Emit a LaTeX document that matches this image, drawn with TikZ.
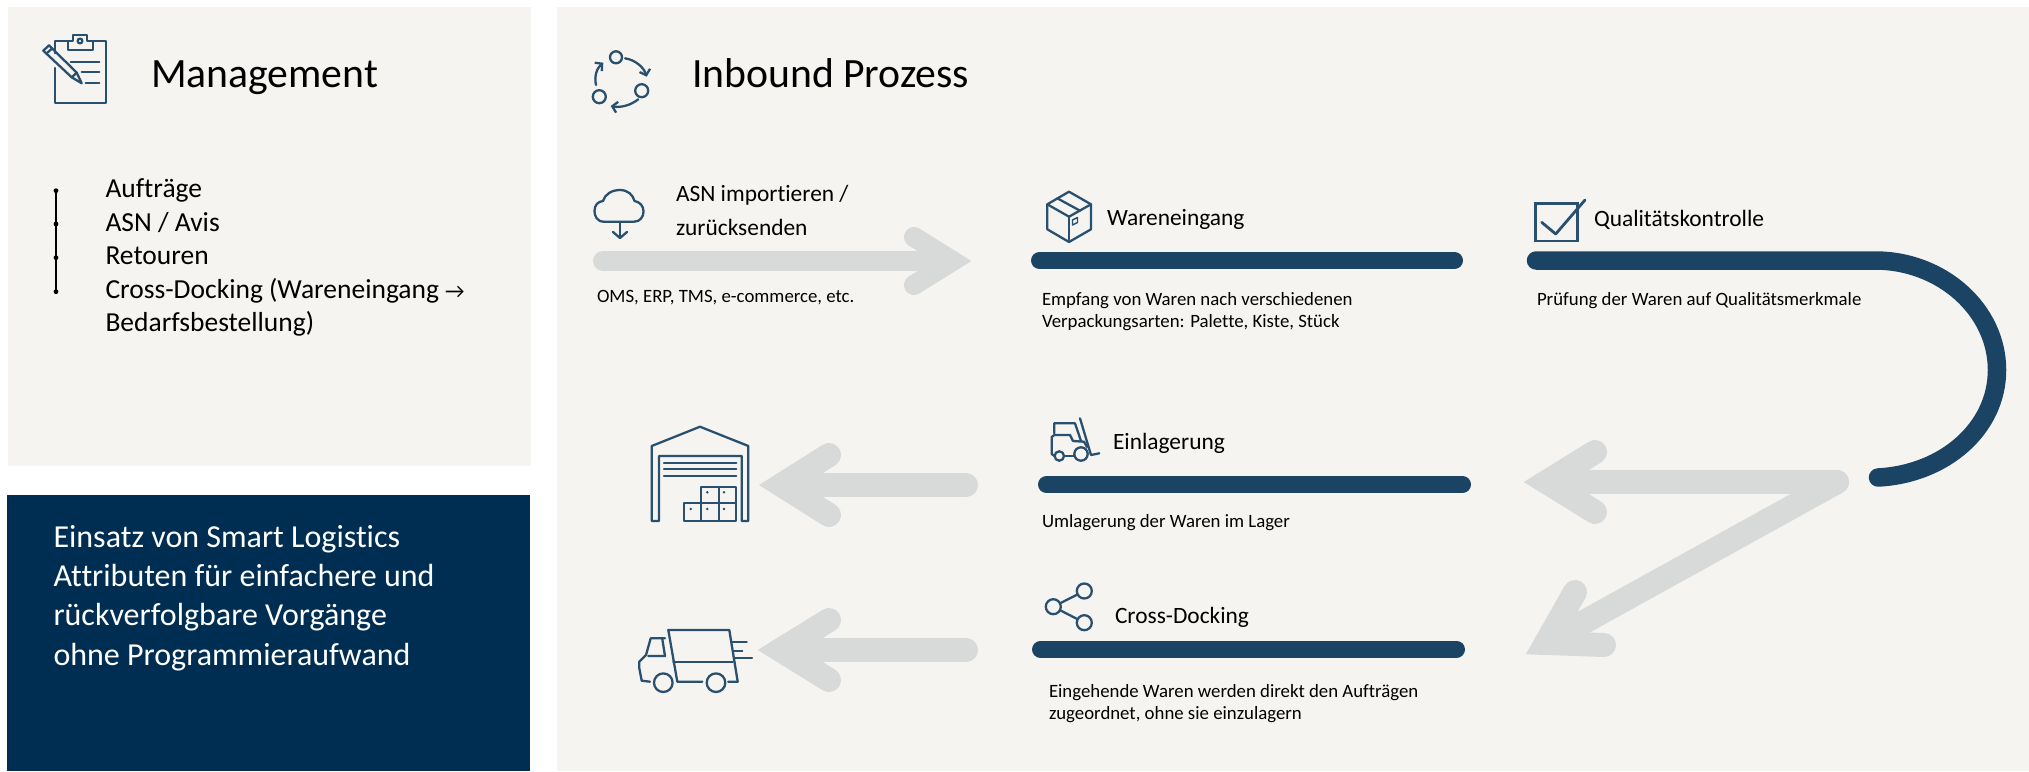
\documentclass[tikz,border=0pt]{standalone}
\usepackage{fontspec}
\setmainfont[Ligatures=NoCommon]{Carlito}
\usetikzlibrary{arrows.meta}
\definecolor{panelgray}{RGB}{246,244,241}
\definecolor{calloutblue}{RGB}{0,46,82}
\definecolor{barblue}{RGB}{27,67,99}
\definecolor{iconblue}{RGB}{42,80,112}
\definecolor{arrowgray}{RGB}{216,218,218}
\begin{document}
\begin{tikzpicture}[x=1pt, y=-1pt]
	\tikzstyle{every node} = [inner sep=0, outer sep=0, anchor=base west]
	\tikzstyle{titlenode} = [font=\fontsize{41.7}{49}\selectfont]
	\tikzstyle{headnode} = [font=\fontsize{23.4}{34}\selectfont, align=left]
	\tikzstyle{smallnode} = [font=\fontsize{18.8}{22}\selectfont, align=left]
	\tikzstyle{listnode} = [font=\fontsize{27.5}{33.5}\selectfont, align=left]
	\tikzstyle{calloutnode} = [font=\fontsize{32}{39.3}\selectfont, align=left, text=white]
	\tikzstyle{bar} = [draw=barblue, line width=17, line cap=round]
	\tikzstyle{grayshaft} = [draw=arrowgray, line width=24, line cap=round]
	\tikzstyle{grayhead} = [draw=arrowgray, line width=24, line cap=round, line join=miter]
	\tikzstyle{icon} = [draw=iconblue, line width=2.3, line join=round, line cap=round]
	\tikzstyle{ring} = [circle, draw=iconblue, line width=2.3, anchor=center]
	\useasboundingbox (0,0) rectangle (2029,771);

	\fill [panelgray] (8,6.5) rectangle (530.5,466);
	\fill [calloutblue] (7,495) rectangle (529.6,771);
	\fill [panelgray] (556.5,6.5) rectangle (2029,771);

	\node [titlenode] (management) at (151,87) {Management};
	\node [titlenode] (inbound) at (692,87) {Inbound Prozess};
	\node [listnode] (tasks) at (105.5,331.7) {Aufträge\\ASN / Avis\\Retouren\\Cross-Docking (Wareneingang {\fontsize{21.5}{33.5}\selectfont →}\\Bedarfsbestellung)};
	\node [calloutnode] (callout) at (53.5,665) {Einsatz von Smart Logistics\\Attributen für einfachere und\\rückverfolgbare Vorgänge\\ohne Programmieraufwand};
	\node [headnode] (asn) at (676,235) {ASN importieren /\\zurücksenden};
	\node [headnode] (receiving) at (1107,225) {Wareneingang};
	\node [headnode] (quality) at (1594,226.5) {Qualitätskontrolle};
	\node [headnode] (storage) at (1113,449) {Einlagerung};
	\node [headnode] (crossdock) at (1115,623) {Cross-Docking};
	\node [smallnode] (asntext) at (597,302) {OMS, ERP, TMS, e-commerce, etc.};
	\node [smallnode] (receivingtext) at (1042,327) {Empfang von Waren nach verschiedenen\\Verpackungsarten: Palette, Kiste, Stück};
	\node [smallnode] (qualitytext) at (1537,305) {Prüfung der Waren auf Qualitätsmerkmale};
	\node [smallnode] (storagetext) at (1042,527) {Umlagerung der Waren im Lager};
	\node [smallnode] (crossdocktext) at (1049,719) {Eingehende Waren werden direkt den Aufträgen\\zugeordnet, ohne sie einzulagern};

	\coordinate (T1) at (56,190.7);
	\coordinate (T2) at (56,224);
	\coordinate (T3) at (56,257.7);
	\coordinate (T4) at (56,291.7);
	\draw [line width=1.3] (T1)--(T4);
	\foreach \i in {T1,T2,T3,T4}
		\fill (\i) circle (2.4);

	\coordinate (A1) at (603,261);
	\coordinate (A2) at (952.5,261);
	\coordinate (A3) at (914,237);
	\coordinate (A4) at (914,285);
	\draw [grayshaft, line width=20] (A1)--(A2);
	\draw [grayhead, line width=20] (A3)--(A2)--(A4);

	\coordinate (B1) at (966,485);
	\coordinate (B2) at (781.5,485);
	\coordinate (B3) at (829,455);
	\coordinate (B4) at (829,515);
	\draw [grayshaft] (B1)--(B2);
	\draw [grayhead] (B3)--(B2)--(B4);

	\coordinate (C1) at (966,650);
	\coordinate (C2) at (780.5,650);
	\coordinate (C3) at (829,620);
	\coordinate (C4) at (829,680);
	\draw [grayshaft] (C1)--(C2);
	\draw [grayhead] (C3)--(C2)--(C4);

	\coordinate (D1) at (1837,482);
	\coordinate (D2) at (1546.5,482);
	\coordinate (D3) at (1595,452);
	\coordinate (D4) at (1595,512);
	\coordinate (E2) at (1546,643);
	\coordinate (E3) at (1575,592);
	\coordinate (E4) at (1604,645);
	\draw [grayshaft] (D1)--(D2);
	\draw [grayhead] (D3)--(D2)--(D4);
	\draw [grayshaft] (D1)--(E2);
	\draw [grayhead] (E3)--(E2)--(E4);

	\coordinate (R1) at (1039.5,260.5);
	\coordinate (R2) at (1454.5,260.5);
	\coordinate (S1) at (1046.5,484.5);
	\coordinate (S2) at (1462.5,484.5);
	\coordinate (X1) at (1040.5,649.3);
	\coordinate (X2) at (1456.5,649.3);
	\coordinate (Q1) at (1536,260.5);
	\coordinate (Q2) at (1875,260.5);
	\coordinate (Q3) at (1997,370);
	\coordinate (Q4) at (1878,477.5);
	\draw [bar] (R1)--(R2);
	\draw [bar] (S1)--(S2);
	\draw [bar] (X1)--(X2);
	\draw [bar, line width=18.5] (Q1)--(Q2) .. controls (1942,260.5) and (1997,310) .. (Q3) .. controls (1997,428) and (1945,474) .. (Q4);

	\draw [icon] (55,53.3)--(55,40.7)--(67.7,40.7);
	\draw [icon] (92.7,40.7)--(106,40.7)--(106,103)--(55,103)--(55,68);
	\draw [icon] (67.7,50)--(67.7,40.7)--(72.7,40.7)--(72.7,35)--(87.3,35)--(87.3,40.7)--(92.7,40.7)--(92.7,50)--cycle;
	\draw [icon] (80,41) circle (2.4);
	\draw [icon] (70.7,62.3)--(99.3,62.3);
	\draw [icon] (81.7,72.3)--(99.3,72.3);
	\draw [icon] (85.7,82.7)--(99.3,82.7);
	\draw [icon] (43.3,50.7)--(49,45.3)--(76.7,72.7)--(81.7,83.3)--(71.7,77.3)--cycle;
	\draw [icon] (46.7,53.3)--(52.3,48.3);
	\draw [icon] (71.7,77.3)--(76.7,72.7);

	\node [ring, minimum size=12] (cycleA) at (616,57.3) {};
	\node [ring, minimum size=13] (cycleB) at (641.7,90.7) {};
	\node [ring, minimum size=13] (cycleC) at (599.3,96.7) {};
	\draw [icon, -{Straight Barb[length=5,width=11]}] (625,58.3) .. controls (636,60) and (644,68) .. (646.7,76.7);
	\draw [icon, -{Straight Barb[length=5,width=11]}] (638.3,99.3) .. controls (631,105) and (621,108) .. (610.7,106);
	\draw [icon, -{Straight Barb[length=5,width=11]}] (596,85) .. controls (594,76) and (597,68) .. (603.3,62.7);

	\draw [icon] (604,221.7) .. controls (597,221.7) and (594.5,216) .. (594.5,211) .. controls (594.5,205) and (598,201.5) .. (603,201) .. controls (605,194) and (612,190) .. (620,190) .. controls (628,190) and (633,195) .. (634.5,201) .. controls (640,202) and (643.5,206) .. (643.5,211.5) .. controls (643.5,217) and (640,221.7) .. (634,221.7)--cycle;
	\draw [icon] (620,222)--(620,238);
	\draw [icon] (613,232)--(620,238)--(627,232);

	\draw [icon] (1069,191.7)--(1091,204.3)--(1091,229.3)--(1069,242)--(1047.3,229.3)--(1047.3,204.3)--cycle;
	\draw [icon] (1047.3,204.3)--(1069,216.7)--(1091,204.3);
	\draw [icon] (1069,216.7)--(1069,242);
	\draw [icon] (1057.3,198.3)--(1080,210.7);
	\draw [icon, line width=1.4] (1072.5,220)--(1077.5,217.5)--(1077.5,222.5)--(1072.5,225)--cycle;

	\draw [icon, line width=2.8, line join=miter] (1535.7,203.3) rectangle (1577.7,241);
	\draw [icon, line width=2.8] (1541.7,222.3)--(1555.7,234)--(1585,200);

	\draw [icon] (1054.3,433.3)--(1054.3,423.3)--(1075,423.3)--(1081,441);
	\draw [icon] (1054.5,456)--(1051.7,454)--(1051.7,437)--(1054.3,435)--(1070,435)--(1073,441)--(1084,441.7)--(1087,447);
	\draw [icon] (1059.3,456) circle (4.7);
	\draw [icon] (1081,454) circle (6.7);
	\draw [icon] (1064,456)--(1074.5,456);
	\draw [icon] (1080,418.3)--(1091,455)--(1099.3,453.3);

	\node [ring, minimum size=15] (shareA) at (1084.3,591) {};
	\node [ring, minimum size=15] (shareB) at (1053.3,606.7) {};
	\node [ring, minimum size=15] (shareC) at (1084.3,622.7) {};
	\draw [icon] (shareB)--(shareA);
	\draw [icon] (shareB)--(shareC);

	\draw [icon] (651.7,521)--(651.7,446)--(700,426.7)--(748.3,446)--(748.3,521)--(741.7,521)--(741.7,456)--(659,456)--(659,521)--cycle;
	\foreach \y in {462.7,469.3,475.7}
		\draw [icon] (664,\y)--(736.3,\y);
	\draw [icon] (684.3,503.3) rectangle (701,521);
	\draw [icon] (701,503.3) rectangle (719,521);
	\draw [icon] (719,503.3) rectangle (735.7,521);
	\draw [icon] (701,486.7) rectangle (719,503.3);
	\draw [icon] (719,486.7) rectangle (735.7,503.3);
	\foreach \p in {(690.7,509),(707.3,509),(724,509),(707.3,492.3),(724,492.3)}
		\fill [iconblue] \p circle (1.4);

	\draw [icon] (702.3,681.7)--(677.3,681.7)--(668.3,630)--(729.3,630)--(737.7,681.7)--(728.3,681.7);
	\draw [icon] (673.3,662.3)--(732.7,662.3);
	\draw [icon] (663.3,682.7) circle (9.3);
	\draw [icon] (716,682.7) circle (9.3);
	\draw [icon] (665,638.3)--(650.7,638.3)--(646,655)--(639.3,661.7)--(639.3,668.3)--(641.7,680.7)--(650,681.7);
	\draw [icon] (648.3,656)--(665,656)--(662.3,639);
	\draw [icon] (731.7,641.7)--(746.7,641.7);
	\draw [icon] (733.3,650.7)--(742.3,650.7);
	\draw [icon] (734,658.3)--(752,658.3);
\end{tikzpicture}
\end{document}
